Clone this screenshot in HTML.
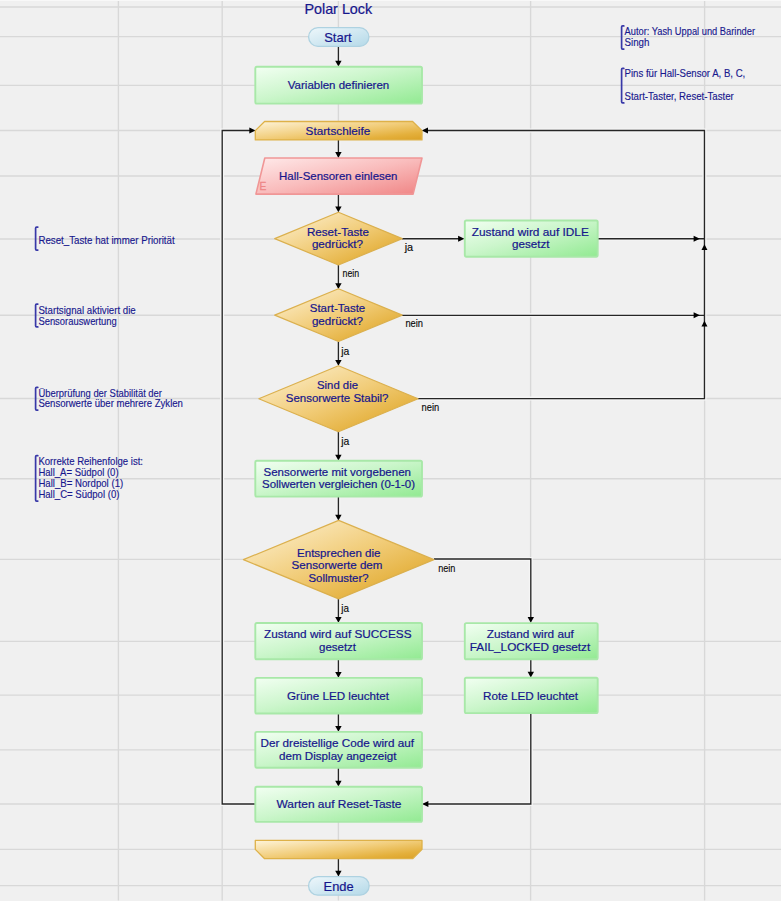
<!DOCTYPE html>
<html><head><meta charset="utf-8"><title>Polar Lock</title>
<style>
html,body{margin:0;padding:0;background:#f0f0f0;}
body{width:781px;height:902px;overflow:hidden;font-family:"Liberation Sans",sans-serif;}
svg{display:block;position:absolute;left:0;top:0;}
text{font-family:"Liberation Sans",sans-serif;}
.t{fill:#16168c;font-size:11.5px;stroke:#16168c;stroke-width:0.2px;}
.c{fill:#18188e;font-size:10.7px;stroke:#18188e;stroke-width:0.15px;}
.l{fill:#0a0a0a;font-size:11.3px;stroke:#0a0a0a;stroke-width:0.15px;}
.g{stroke:#d8d8d8;stroke-width:1.35;}
.ln{stroke:#262626;stroke-width:1.35;fill:none;}
.ah{fill:#000;stroke:none;}
.halo{stroke:#f5f5f5;stroke-width:4.0;fill:none;}
.br{stroke:#3838a8;stroke-width:1.7;fill:none;stroke-linejoin:round;stroke-linecap:round;}
</style></head><body>
<svg width="781" height="902" viewBox="0 0 781 902">
<defs>
<linearGradient id="gg" x1="0" y1="0" x2="1" y2="1"><stop offset="0" stop-color="#f2fff2"/><stop offset="0.45" stop-color="#ccf6cc"/><stop offset="1" stop-color="#92ea92"/></linearGradient>
<linearGradient id="go" x1="0" y1="0" x2="1" y2="1"><stop offset="0" stop-color="#fef4da"/><stop offset="0.5" stop-color="#f1cc78"/><stop offset="0.8" stop-color="#e4b03c"/><stop offset="1" stop-color="#dba126"/></linearGradient>
<linearGradient id="gl" x1="0" y1="0" x2="0.15" y2="1"><stop offset="0" stop-color="#fae0a8"/><stop offset="1" stop-color="#e0a02c"/></linearGradient>
<linearGradient id="gr" x1="0" y1="0" x2="1" y2="1"><stop offset="0" stop-color="#ffeaea"/><stop offset="0.5" stop-color="#f9bcbc"/><stop offset="1" stop-color="#f08585"/></linearGradient>
<linearGradient id="gb" x1="0" y1="0" x2="1" y2="1"><stop offset="0" stop-color="#eef7fb"/><stop offset="1" stop-color="#b4d9e8"/></linearGradient>
</defs>
<rect x="0" y="0" width="781" height="902" fill="#f0f0f0"/>
<rect x="0" y="0" width="781" height="1" fill="#f8f8f8"/>
<rect x="0" y="901" width="781" height="1" fill="#ffffff"/>
<line class="g" x1="0" y1="7.0" x2="781" y2="7.0"/>
<line class="g" x1="0" y1="36.6" x2="781" y2="36.6"/>
<line class="g" x1="0" y1="85.4" x2="781" y2="85.4"/>
<line class="g" x1="0" y1="130.5" x2="781" y2="130.5"/>
<line class="g" x1="0" y1="176.0" x2="781" y2="176.0"/>
<line class="g" x1="0" y1="239.0" x2="781" y2="239.0"/>
<line class="g" x1="0" y1="315.2" x2="781" y2="315.2"/>
<line class="g" x1="0" y1="398.5" x2="781" y2="398.5"/>
<line class="g" x1="0" y1="478.7" x2="781" y2="478.7"/>
<line class="g" x1="0" y1="559.3" x2="781" y2="559.3"/>
<line class="g" x1="0" y1="641.3" x2="781" y2="641.3"/>
<line class="g" x1="0" y1="695.1" x2="781" y2="695.1"/>
<line class="g" x1="0" y1="749.8" x2="781" y2="749.8"/>
<line class="g" x1="0" y1="804.0" x2="781" y2="804.0"/>
<line class="g" x1="0" y1="849.4" x2="781" y2="849.4"/>
<line class="g" x1="0" y1="885.6" x2="781" y2="885.6"/>
<line class="g" x1="118.4" y1="1" x2="118.4" y2="900.5"/>
<line class="g" x1="222.2" y1="1" x2="222.2" y2="900.5"/>
<line class="g" x1="338.4" y1="1" x2="338.4" y2="900.5"/>
<line class="g" x1="530.6" y1="1" x2="530.6" y2="900.5"/>
<line class="g" x1="704.6" y1="1" x2="704.6" y2="900.5"/>
<line class="halo" x1="338.4" y1="46.5" x2="338.4" y2="63.2"/>
<line class="halo" x1="338.4" y1="140" x2="338.4" y2="154.5"/>
<line class="halo" x1="338.4" y1="194.5" x2="338.4" y2="208.8"/>
<line class="halo" x1="338.4" y1="265" x2="338.4" y2="285.7"/>
<line class="halo" x1="338.4" y1="341.8" x2="338.4" y2="362.4"/>
<line class="halo" x1="338.4" y1="432" x2="338.4" y2="457.1"/>
<line class="halo" x1="338.4" y1="497" x2="338.4" y2="517.1"/>
<line class="halo" x1="338.4" y1="598.7" x2="338.4" y2="619.4"/>
<line class="halo" x1="338.4" y1="660" x2="338.4" y2="674.3"/>
<line class="halo" x1="338.4" y1="714" x2="338.4" y2="728.3"/>
<line class="halo" x1="338.4" y1="768" x2="338.4" y2="783.1"/>
<line class="halo" x1="338.4" y1="859" x2="338.4" y2="873.2"/>
<line class="halo" x1="530.8" y1="660" x2="530.8" y2="674.1"/>
<line class="halo" x1="402" y1="238.7" x2="460" y2="238.7"/>
<line class="halo" x1="598" y1="238.7" x2="704.45" y2="238.7"/>
<line class="halo" x1="402" y1="315.3" x2="704.45" y2="315.3"/>
<path class="halo" d="M418,398.6 H704.45 V130.5 H427"/>
<path class="halo" d="M434,559.0 H530.8 V619"/>
<path class="halo" d="M530.8,713.5 V804.0 H427"/>
<path class="halo" d="M255,804.0 H222.2 V130.5 H251"/>
<line class="ln" x1="338.4" y1="46.5" x2="338.4" y2="63.2"/>
<polygon class="ah" points="335.2,60.800000000000004 341.59999999999997,60.800000000000004 338.4,66.60000000000001"/>
<line class="ln" x1="338.4" y1="140" x2="338.4" y2="154.5"/>
<polygon class="ah" points="335.2,152.1 341.59999999999997,152.1 338.4,157.9"/>
<line class="ln" x1="338.4" y1="194.5" x2="338.4" y2="208.8"/>
<polygon class="ah" points="335.2,206.4 341.59999999999997,206.4 338.4,212.20000000000002"/>
<line class="ln" x1="338.4" y1="265" x2="338.4" y2="285.7"/>
<polygon class="ah" points="335.2,283.3 341.59999999999997,283.3 338.4,289.09999999999997"/>
<line class="ln" x1="338.4" y1="341.8" x2="338.4" y2="362.4"/>
<polygon class="ah" points="335.2,360.0 341.59999999999997,360.0 338.4,365.79999999999995"/>
<line class="ln" x1="338.4" y1="432" x2="338.4" y2="457.1"/>
<polygon class="ah" points="335.2,454.70000000000005 341.59999999999997,454.70000000000005 338.4,460.5"/>
<line class="ln" x1="338.4" y1="497" x2="338.4" y2="517.1"/>
<polygon class="ah" points="335.2,514.7 341.59999999999997,514.7 338.4,520.5"/>
<line class="ln" x1="338.4" y1="598.7" x2="338.4" y2="619.4"/>
<polygon class="ah" points="335.2,617.0 341.59999999999997,617.0 338.4,622.8"/>
<line class="ln" x1="338.4" y1="660" x2="338.4" y2="674.3"/>
<polygon class="ah" points="335.2,671.9 341.59999999999997,671.9 338.4,677.6999999999999"/>
<line class="ln" x1="338.4" y1="714" x2="338.4" y2="728.3"/>
<polygon class="ah" points="335.2,725.9 341.59999999999997,725.9 338.4,731.6999999999999"/>
<line class="ln" x1="338.4" y1="768" x2="338.4" y2="783.1"/>
<polygon class="ah" points="335.2,780.7 341.59999999999997,780.7 338.4,786.5"/>
<line class="ln" x1="338.4" y1="859" x2="338.4" y2="873.2"/>
<polygon class="ah" points="335.2,870.8000000000001 341.59999999999997,870.8000000000001 338.4,876.6"/>
<line class="ln" x1="530.8" y1="660" x2="530.8" y2="674.1"/>
<polygon class="ah" points="527.5999999999999,671.7 534.0,671.7 530.8,677.5"/>
<line class="ln" x1="402" y1="238.7" x2="460" y2="238.7"/>
<polygon class="ah" points="458.1,235.7 458.1,241.7 464.40000000000003,238.7"/>
<line class="ln" x1="598" y1="238.7" x2="704.45" y2="238.7"/>
<polygon class="ah" points="693.6,235.7 693.6,241.7 699.9,238.7"/>
<line class="ln" x1="402" y1="315.3" x2="704.45" y2="315.3"/>
<polygon class="ah" points="693.6,312.3 693.6,318.3 699.9,315.3"/>
<path class="ln" d="M418,398.6 H704.45 V130.5 H427"/>
<polygon class="ah" points="428.0,127.5 428.0,133.5 421.7,130.5"/>
<polygon class="ah" points="701.45,249.9 707.45,249.9 704.45,244.2"/>
<polygon class="ah" points="701.45,326.5 707.45,326.5 704.45,320.8"/>
<path class="ln" d="M434,559.0 H530.8 V619"/>
<polygon class="ah" points="527.5999999999999,617 534.0,617 530.8,622.8"/>
<path class="ln" d="M530.8,713.5 V804.0 H427"/>
<polygon class="ah" points="428.4,801.0 428.4,807.0 422.09999999999997,804.0"/>
<path class="ln" d="M255,804.0 H222.2 V130.5 H251"/>
<polygon class="ah" points="249.3,127.5 249.3,133.5 255.60000000000002,130.5"/>
<rect x="308.6" y="27.6" width="60.3" height="18.8" rx="9.4" ry="9.4" fill="url(#gb)" stroke="#aed2e1" stroke-width="1.3"/>
<rect x="255.29999999999998" y="66.8" width="166.7" height="36.800000000000004" rx="1.6" ry="1.6" fill="url(#gg)" stroke="#a8e8a8" stroke-width="1.9"/>
<polygon points="255.3,139.9 255.3,130.6 264.6,121.5 412.6,121.5 422.0,130.6 422.0,139.9" fill="url(#go)" stroke="#deb148" stroke-width="1.3" stroke-linejoin="round"/>
<polygon points="255.9,194.1 264.8,158 422.0,158 413.1,194.1" fill="url(#gr)" stroke="#f09696" stroke-width="1.6" stroke-linejoin="round"/>
<polygon points="274.7,238.6 338.45,212.2 402.2,238.6 338.45,265.0" fill="url(#go)" stroke="#dbb04e" stroke-width="1.2" stroke-linejoin="round"/>
<rect x="464.8" y="220.5" width="132.89999999999995" height="36.19999999999997" rx="1.6" ry="1.6" fill="url(#gg)" stroke="#a8e8a8" stroke-width="1.9"/>
<polygon points="274.7,315.1 338.45,288.7 402.2,315.1 338.45,341.5" fill="url(#go)" stroke="#dbb04e" stroke-width="1.2" stroke-linejoin="round"/>
<polygon points="258.8,398.7 338.45,365.7 418.09999999999997,398.7 338.45,431.7" fill="url(#go)" stroke="#dbb04e" stroke-width="1.2" stroke-linejoin="round"/>
<rect x="255.29999999999998" y="460.7" width="166.7" height="35.90000000000001" rx="1.6" ry="1.6" fill="url(#gg)" stroke="#a8e8a8" stroke-width="1.9"/>
<polygon points="243.4,559.65 338.65,520.4 433.9,559.65 338.65,598.9" fill="url(#go)" stroke="#dbb04e" stroke-width="1.2" stroke-linejoin="round"/>
<rect x="255.29999999999998" y="623.0" width="166.7" height="36.30000000000005" rx="1.6" ry="1.6" fill="url(#gg)" stroke="#a8e8a8" stroke-width="1.9"/>
<rect x="464.8" y="623.1" width="132.89999999999995" height="36.200000000000024" rx="1.6" ry="1.6" fill="url(#gg)" stroke="#a8e8a8" stroke-width="1.9"/>
<rect x="255.29999999999998" y="677.9000000000001" width="166.7" height="35.6" rx="1.6" ry="1.6" fill="url(#gg)" stroke="#a8e8a8" stroke-width="1.9"/>
<rect x="464.8" y="677.7" width="132.89999999999995" height="35.399999999999956" rx="1.6" ry="1.6" fill="url(#gg)" stroke="#a8e8a8" stroke-width="1.9"/>
<rect x="255.29999999999998" y="731.9000000000001" width="166.7" height="35.79999999999993" rx="1.6" ry="1.6" fill="url(#gg)" stroke="#a8e8a8" stroke-width="1.9"/>
<rect x="255.29999999999998" y="786.7" width="166.7" height="35.200000000000024" rx="1.6" ry="1.6" fill="url(#gg)" stroke="#a8e8a8" stroke-width="1.9"/>
<polygon points="255.3,840.4 422.0,840.4 422.0,849.4 412.6,858.7 264.6,858.7 255.3,849.4" fill="url(#go)" stroke="#deb148" stroke-width="1.3" stroke-linejoin="round"/>
<rect x="308.6" y="876.6" width="60.499999999999986" height="18.599999999999955" rx="9.299999999999978" ry="9.299999999999978" fill="url(#gb)" stroke="#aed2e1" stroke-width="1.3"/>
<text x="304.4" y="13.6" textLength="67.8" lengthAdjust="spacingAndGlyphs" style="fill:#16168c;font-size:14.2px;stroke:#16168c;stroke-width:0.2px">Polar Lock</text>
<text class="t" x="324.2" y="42.2" textLength="27.4" lengthAdjust="spacingAndGlyphs" style="font-size:12.2px">Start</text>
<text class="t" x="287.8" y="89.3" textLength="101.4" lengthAdjust="spacingAndGlyphs">Variablen definieren</text>
<text class="t" x="305.6" y="134.9" textLength="64.6" lengthAdjust="spacingAndGlyphs">Startschleife</text>
<text class="t" x="279.1" y="180.4" textLength="118.4" lengthAdjust="spacingAndGlyphs">Hall-Sensoren einlesen</text>
<text x="259.6" y="189.5" style="fill:#ee8686;font-size:10.2px;stroke:#ee8686;stroke-width:0.35px">E</text>
<text class="t" x="306.9" y="235.6" textLength="62.1" lengthAdjust="spacingAndGlyphs">Reset-Taste</text>
<text class="t" x="311.9" y="248.1" textLength="51.0" lengthAdjust="spacingAndGlyphs">gedrückt?</text>
<text class="t" x="471.7" y="236.0" textLength="117.1" lengthAdjust="spacingAndGlyphs">Zustand wird auf IDLE</text>
<text class="t" x="512.0" y="248.4" textLength="37.5" lengthAdjust="spacingAndGlyphs">gesetzt</text>
<text class="t" x="309.8" y="312.0" textLength="55.4" lengthAdjust="spacingAndGlyphs">Start-Taste</text>
<text class="t" x="311.9" y="325.0" textLength="51.0" lengthAdjust="spacingAndGlyphs">gedrückt?</text>
<text class="t" x="317.0" y="389.2" textLength="41.0" lengthAdjust="spacingAndGlyphs">Sind die</text>
<text class="t" x="285.8" y="402.0" textLength="102.7" lengthAdjust="spacingAndGlyphs">Sensorwerte Stabil?</text>
<text class="t" x="263.5" y="475.5" textLength="147.5" lengthAdjust="spacingAndGlyphs">Sensorwerte mit vorgebenen</text>
<text class="t" x="262.0" y="488.0" textLength="153.0" lengthAdjust="spacingAndGlyphs">Sollwerten vergleichen (0-1-0)</text>
<text class="t" x="297.0" y="556.5" textLength="83.5" lengthAdjust="spacingAndGlyphs">Entsprechen die</text>
<text class="t" x="291.5" y="569.0" textLength="91.0" lengthAdjust="spacingAndGlyphs">Sensorwerte dem</text>
<text class="t" x="308.5" y="581.5" textLength="60.0" lengthAdjust="spacingAndGlyphs">Sollmuster?</text>
<text class="t" x="264.0" y="638.0" textLength="147.5" lengthAdjust="spacingAndGlyphs">Zustand wird auf SUCCESS</text>
<text class="t" x="319.0" y="650.5" textLength="37.0" lengthAdjust="spacingAndGlyphs">gesetzt</text>
<text class="t" x="486.7" y="638.0" textLength="87.1" lengthAdjust="spacingAndGlyphs">Zustand wird auf</text>
<text class="t" x="469.8" y="650.5" textLength="120.5" lengthAdjust="spacingAndGlyphs">FAIL_LOCKED gesetzt</text>
<text class="t" x="287.0" y="699.5" textLength="102.0" lengthAdjust="spacingAndGlyphs">Grüne LED leuchtet</text>
<text class="t" x="483.0" y="699.5" textLength="95.0" lengthAdjust="spacingAndGlyphs">Rote LED leuchtet</text>
<text class="t" x="260.5" y="747.0" textLength="153.5" lengthAdjust="spacingAndGlyphs">Der dreistellige Code wird auf</text>
<text class="t" x="279.0" y="759.5" textLength="117.5" lengthAdjust="spacingAndGlyphs">dem Display angezeigt</text>
<text class="t" x="276.5" y="808.0" textLength="125.0" lengthAdjust="spacingAndGlyphs">Warten auf Reset-Taste</text>
<text class="t" x="323.6" y="890.6" textLength="30.0" lengthAdjust="spacingAndGlyphs" style="font-size:12.2px">Ende</text>
<text class="l" x="404.7" y="251.2" textLength="8.5" lengthAdjust="spacingAndGlyphs">ja</text>
<text class="l" x="342.6" y="277.2" textLength="16.6" lengthAdjust="spacingAndGlyphs">nein</text>
<text class="l" x="405.4" y="327.2" textLength="17.6" lengthAdjust="spacingAndGlyphs">nein</text>
<text class="l" x="341.3" y="354.6" textLength="8.1" lengthAdjust="spacingAndGlyphs">ja</text>
<text class="l" x="421.6" y="411.0" textLength="17.6" lengthAdjust="spacingAndGlyphs">nein</text>
<text class="l" x="341.3" y="444.6" textLength="8.1" lengthAdjust="spacingAndGlyphs">ja</text>
<text class="l" x="438.2" y="572.2" textLength="17.2" lengthAdjust="spacingAndGlyphs">nein</text>
<text class="l" x="341.3" y="611.8" textLength="7.7" lengthAdjust="spacingAndGlyphs">ja</text>
<path class="br" d="M623.8000000000001,25.9 H622.6 Q621.6,25.9 621.6,27 V48 Q621.6,49.1 622.6,49.1 H623.8000000000001"/>
<text class="c" x="624.5" y="34.7" textLength="130.5" lengthAdjust="spacingAndGlyphs">Autor: Yash Uppal und Barinder</text>
<text class="c" x="624.5" y="45.7" textLength="24.9" lengthAdjust="spacingAndGlyphs">Singh</text>
<path class="br" d="M623.8000000000001,68.4 H622.6 Q621.6,68.4 621.6,69.5 V101.8 Q621.6,102.89999999999999 622.6,102.89999999999999 H623.8000000000001"/>
<text class="c" x="624.5" y="76.7" textLength="120.8" lengthAdjust="spacingAndGlyphs">Pins für Hall-Sensor A, B, C,</text>
<text class="c" x="624.5" y="99.8" textLength="109.2" lengthAdjust="spacingAndGlyphs">Start-Taster, Reset-Taster</text>
<path class="br" d="M37.800000000000004,227.1 H36.6 Q35.6,227.1 35.6,228.2 V249.0 Q35.6,250.1 36.6,250.1 H37.800000000000004"/>
<text class="c" x="38.4" y="243.6" textLength="136.3" lengthAdjust="spacingAndGlyphs">Reset_Taste hat immer Priorität</text>
<path class="br" d="M37.800000000000004,304.09999999999997 H36.6 Q35.6,304.09999999999997 35.6,305.2 V325.8 Q35.6,326.90000000000003 36.6,326.90000000000003 H37.800000000000004"/>
<text class="c" x="38.4" y="313.5" textLength="97.3" lengthAdjust="spacingAndGlyphs">Startsignal aktiviert die</text>
<text class="c" x="38.4" y="325.0" textLength="78.4" lengthAdjust="spacingAndGlyphs">Sensorauswertung</text>
<path class="br" d="M37.800000000000004,387.29999999999995 H36.6 Q35.6,387.29999999999995 35.6,388.4 V409.0 Q35.6,410.1 36.6,410.1 H37.800000000000004"/>
<text class="c" x="38.4" y="396.6" textLength="123.6" lengthAdjust="spacingAndGlyphs">Überprüfung der Stabilität der</text>
<text class="c" x="38.4" y="407.2" textLength="144.5" lengthAdjust="spacingAndGlyphs">Sensorwerte über mehrere Zyklen</text>
<path class="br" d="M37.800000000000004,455.7 H36.6 Q35.6,455.7 35.6,456.8 V500.0 Q35.6,501.1 36.6,501.1 H37.800000000000004"/>
<text class="c" x="38.4" y="464.5" textLength="104.6" lengthAdjust="spacingAndGlyphs">Korrekte Reihenfolge ist:</text>
<text class="c" x="38.4" y="476.2" textLength="80.2" lengthAdjust="spacingAndGlyphs">Hall_A= Südpol (0)</text>
<text class="c" x="38.4" y="487.2" textLength="84.8" lengthAdjust="spacingAndGlyphs">Hall_B= Nordpol (1)</text>
<text class="c" x="38.4" y="498.4" textLength="81.0" lengthAdjust="spacingAndGlyphs">Hall_C= Südpol (0)</text>
</svg></body></html>
